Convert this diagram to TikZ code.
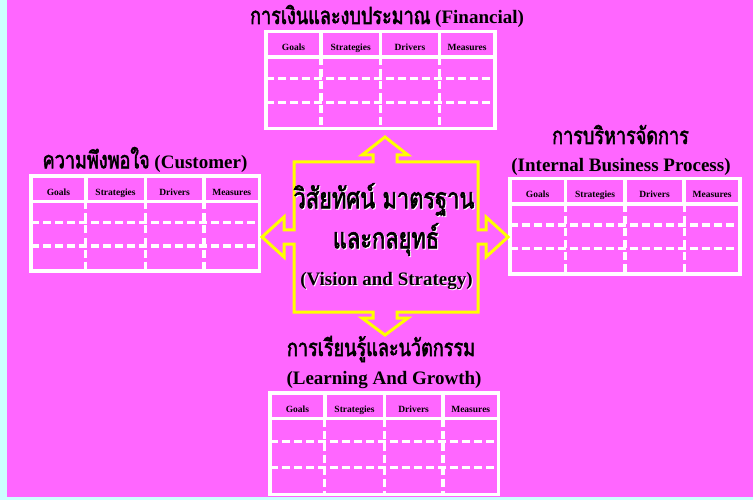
\documentclass[tikz,border=0pt]{standalone}
\usepackage{fontspec}
\setmainfont{Liberation Serif}
\newfontfamily\thai[Script=Thai, Scale=1.25, FakeStretch=0.76, BoldFont={*}, BoldFeatures={FakeBold=2.2}]{Loma}
\definecolor{bgmag}{HTML}{FF66FF}
\definecolor{bgcyan}{HTML}{CCFFFF}
\definecolor{arrowyel}{HTML}{FFFF00}
\tikzset{
  tblline/.style={draw=white, line width=3.4pt},
  tbldash/.style={draw=white, line width=3.2pt, dash pattern=on 8pt off 4pt},
  hdrlabel/.style={font=\bfseries\fontsize{9.5}{11}\selectfont, inner sep=0pt, anchor=base, text=black},
  ttl/.style={font=\bfseries\fontsize{19}{22}\selectfont, inner sep=0pt, anchor=base, text=black},
  ttlshadow/.style={ttl, text=white},
  bigthai/.style={ttl, font=\bfseries\fontsize{23}{26}\selectfont},
  bigthaishadow/.style={bigthai, text=white},
  quadarrow/.style={draw=arrowyel, line width=3pt, line join=miter}
}
\newcommand\bsctable[5]{%
  \begin{scope}[shift={(#2,#3)}]
    \pgfmathsetmacro\tW{#4}
    \pgfmathsetmacro\tH{#5}
    \pgfmathsetmacro\tHB{25.5}
    \pgfmathsetmacro\tRa{\tHB+0.3*(\tH-\tHB)}
    \pgfmathsetmacro\tRb{\tHB+0.64*(\tH-\tHB)}
    \coordinate (#1-nw) at (0,0);
    \coordinate (#1-se) at (\tW,\tH);
    \draw[tblline] (#1-nw) rectangle (#1-se);
    \coordinate (#1-hl) at (0,\tHB);
    \coordinate (#1-hr) at (\tW,\tHB);
    \draw[tblline] (#1-hl) -- (#1-hr);
    \foreach \f/\k in {0.24/a,0.5/b,0.757/c}{
      \coordinate (#1-t\k) at (\f*\tW,0);
      \coordinate (#1-m\k) at (\f*\tW,\tHB);
      \coordinate (#1-b\k) at (\f*\tW,\tH);
      \draw[tblline] (#1-t\k) -- (#1-m\k);
      \draw[tbldash] (#1-m\k) -- (#1-b\k);
    }
    \coordinate (#1-ral) at (0,\tRa);
    \coordinate (#1-rar) at (\tW,\tRa);
    \coordinate (#1-rbl) at (0,\tRb);
    \coordinate (#1-rbr) at (\tW,\tRb);
    \draw[tbldash] (#1-ral) -- (#1-rar);
    \draw[tbldash] (#1-rbl) -- (#1-rbr);
    \node[hdrlabel] (#1-goals) at (0.12*\tW,\tHB-6) {Goals};
    \node[hdrlabel] (#1-strat) at (0.37*\tW,\tHB-6) {Strategies};
    \node[hdrlabel] (#1-drv) at (0.6285*\tW,\tHB-6) {Drivers};
    \node[hdrlabel] (#1-meas) at (0.8785*\tW,\tHB-6) {Measures};
  \end{scope}}
\begin{document}
\begin{tikzpicture}[x=1pt,y=-1pt]
\useasboundingbox (0,0) rectangle (753,500);
\fill[bgcyan] (0,0) rectangle (753,500);
\fill[bgmag] (7,0) rectangle (753,497);

% tables
\bsctable{fin}{266}{31.5}{229}{97}
\bsctable{cus}{31}{176}{228.5}{95}
\bsctable{ibp}{510}{178.5}{230}{95.5}
\bsctable{lag}{270}{393}{228.5}{101.5}

% titles
\node[ttl] (fintitle) at (387,24) {{\thai การเงินและงบประมาณ} (Financial)};
\node[ttl] (custitle) at (145,168.3) {{\thai ความพึงพอใจ} (Customer)};
\node[ttl] (ibptitle) at (620.5,144) {\thai การบริหารจัดการ};
\node[ttl] (ibptitle2) at (621,171.7) {(Internal Business Process)};
\node[ttl] (lagtitle) at (381,356) {\thai การเรียนรู้และนวัตกรรม};
\node[ttl] (lagtitle2) at (384,384.3) {(Learning And Growth)};

% central quad arrow
\draw[quadarrow] (294,162) -- (373,162) -- (373,155) -- (362,155) -- (385,137)
  -- (408,155) -- (397,155) -- (397,162) -- (478,162) -- (478,230) -- (486,230)
  -- (486,217) -- (508,237) -- (486,257) -- (486,244) -- (478,244) -- (478,312)
  -- (397,312) -- (397,318) -- (408,318) -- (385,335) -- (362,318) -- (373,318)
  -- (373,312) -- (294,312) -- (294,244) -- (284,244) -- (284,257) -- (262,237)
  -- (284,217) -- (284,230) -- (294,230) -- cycle;

% central text with white shadow
\node[bigthaishadow] (vis1s) at (385,209.3) {\thai วิสัยทัศน์ มาตรฐาน};
\node[bigthai] (vis1) at (384,208.3) {\thai วิสัยทัศน์ มาตรฐาน};
\node[bigthaishadow] (vis2s) at (387,249.3) {\thai และกลยุทธ์};
\node[bigthai] (vis2) at (386,248.3) {\thai และกลยุทธ์};
\node[ttlshadow] (vis3s) at (387.5,286) {(Vision and Strategy)};
\node[ttl] (vis3) at (386.5,285) {(Vision and Strategy)};
\end{tikzpicture}
\end{document}
